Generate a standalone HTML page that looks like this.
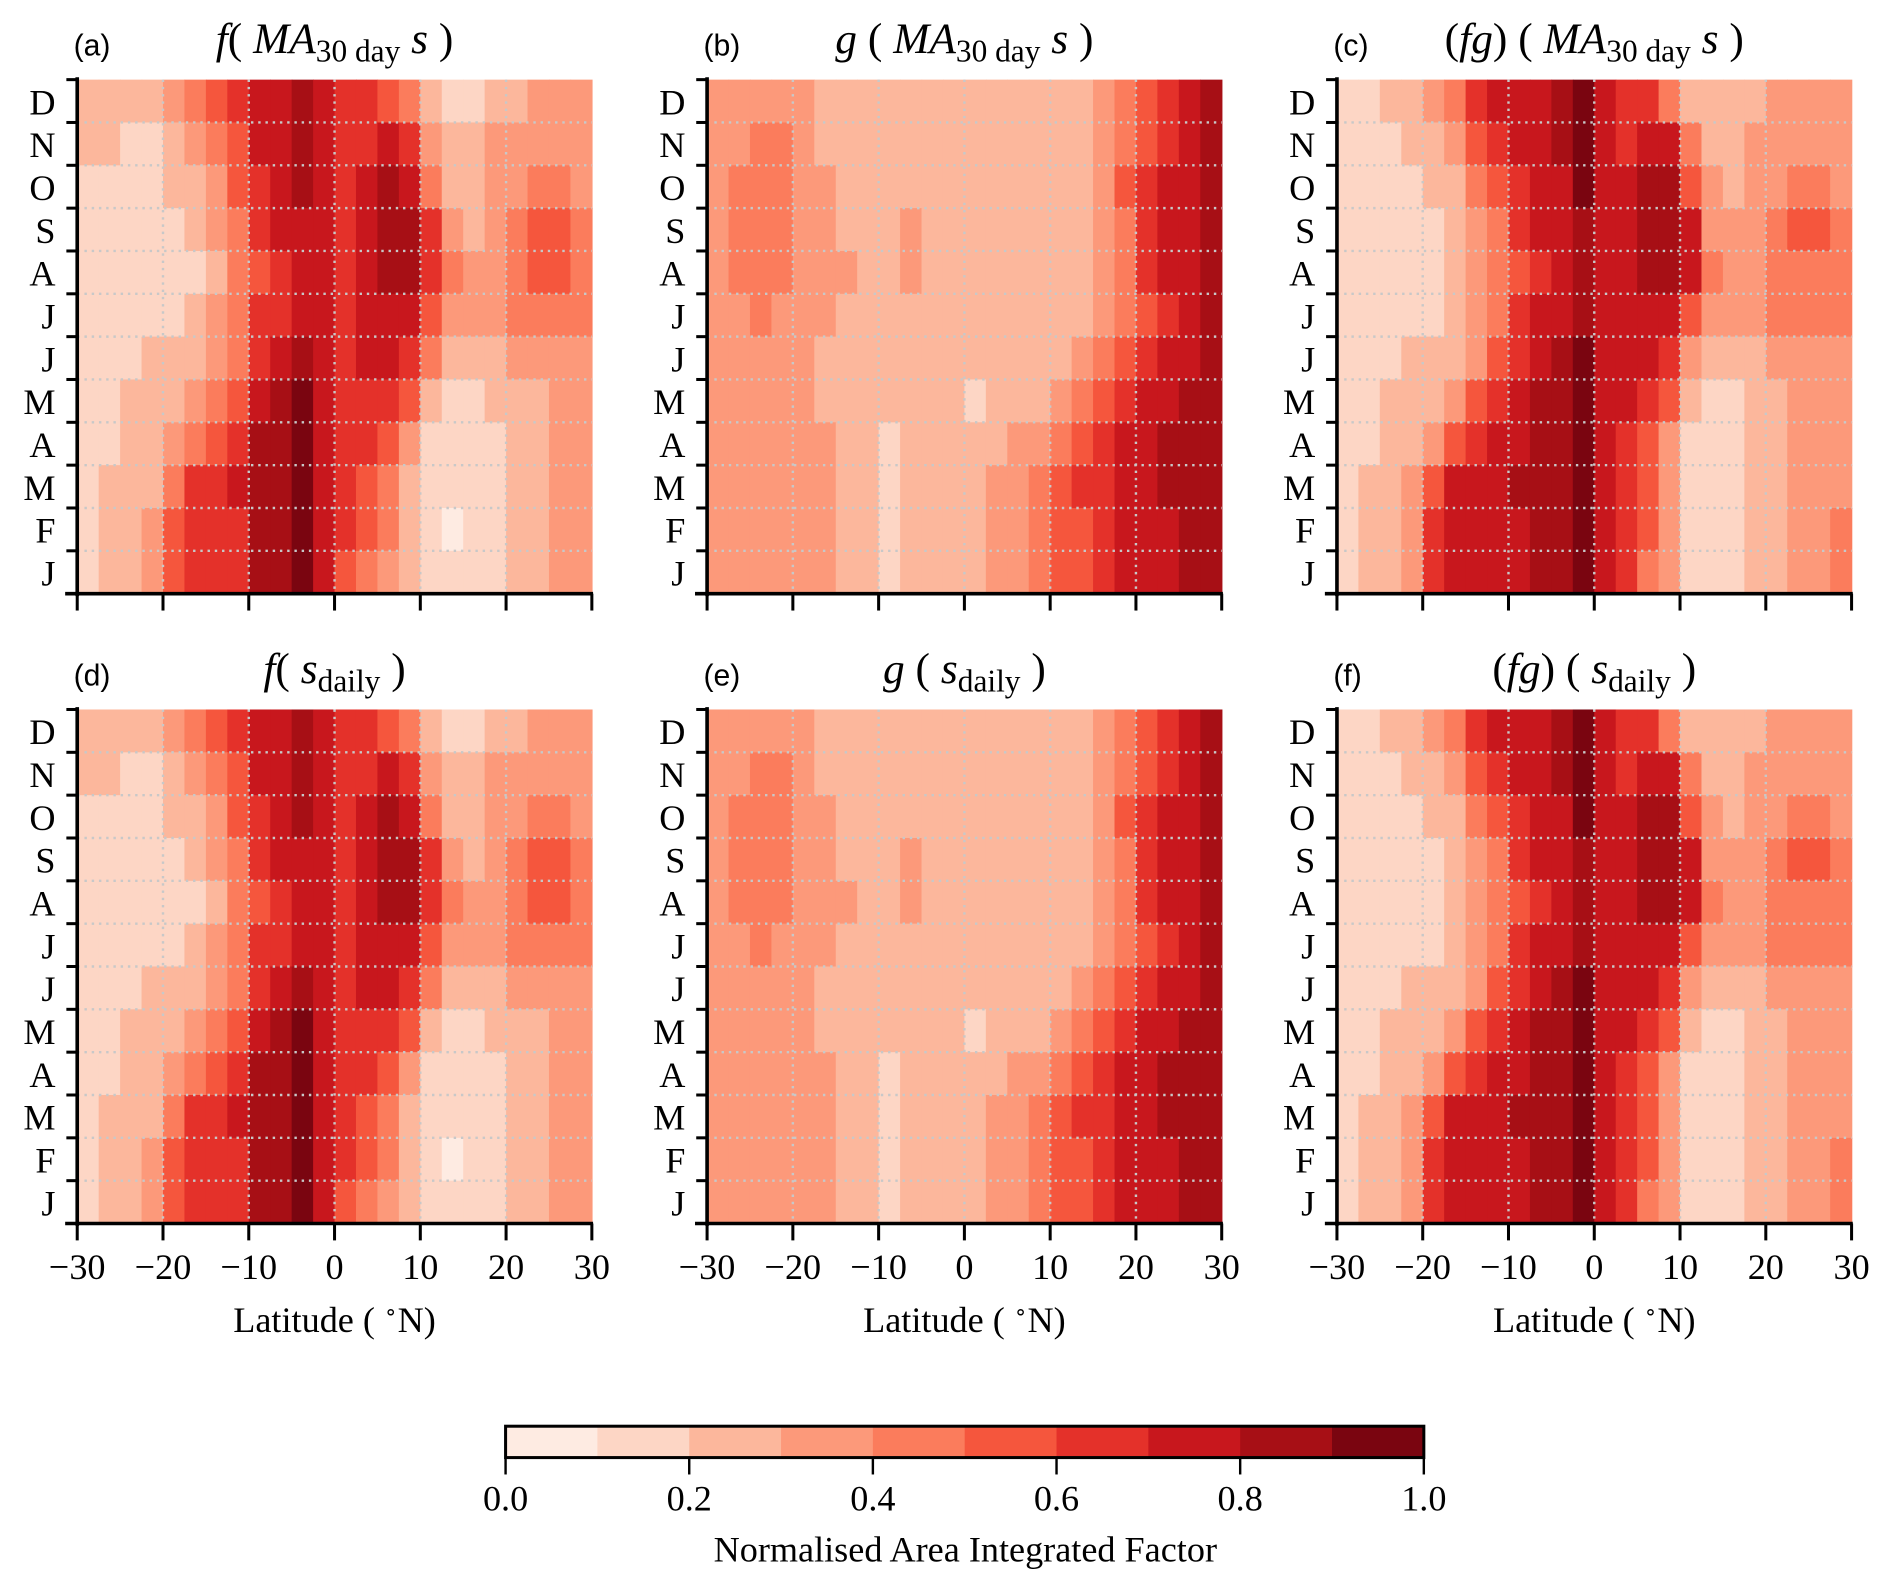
<!DOCTYPE html>
<html><head><meta charset="utf-8"><style>
html,body{margin:0;padding:0;background:#fff}
svg{display:block}
text{font-family:"Liberation Serif",serif;fill:#000}
</style></head><body>
<svg id="fig" width="1892" height="1592" viewBox="0 0 1568 1319.4" preserveAspectRatio="none" xmlns="http://www.w3.org/2000/svg"></svg>
<script>
// Latitude bin edges (°N), month labels (bottom -> top), colour levels
const latEdges = [-30,-27.5,-25,-22.5,-20,-17.5,-15,-12.5,-10,-7.5,-5,-2.5,0,2.5,5,7.5,10,12.5,15,17.5,20,22.5,25,27.5,30];
const monthLabels = ["J","F","M","A","M","J","J","A","S","O","N","D"];
const xTicks = [-30,-20,-10,0,10,20,30];
const cbarTicks = ["0.0","0.2","0.4","0.6","0.8","1.0"];
const levelColors = ["#feebe2","#fdd6c5","#fcb79c","#fc997a","#fb7c5c","#f5563d","#e4312a","#c8171d","#a70f15","#7a0510"];
// Factor level (0-9 => 0.0-0.9 bin) rows listed top (D) to bottom (J)
const fData = [
"222234567787665421122333","221123457787667632233333","111122356787678742233443",
"111112346777678863234554","111111245677678864334554","111112346677677753334444",
"111222346787677642223333","112223457897666521122233","112234568897665311112233",
"122246678897654211112233","122356668897654210112233","122356668897543211112233"];
const gData = [
"333332222222222222345678","334432222222222222345678","344433222222222222356778",
"344433222322222222346778","344433322322222222346778","334333222222222222345678",
"333332222222222223456778","333332222222122234567788","333333221222223345677888",
"333333221222233456677888","333333221222233455677788","333333221222233455677788"];
const fgData = [
"112234677789766422223333","111223567789767742233333","111122456779778853233443",
"111112346778778873334554","111112345678778874334444","111112346778777753334444",
"111222356789777632223333","112223567889776521122333","112235677889765311122333",
"122357778889765311122333","122367777889765311122334","122367777889764311122334"];
// Panels: daily versions use the same underlying fields
const panelFields = [fData, gData, fgData, fData, gData, fgData];

const svg = document.getElementById('fig');
const NS = "http://www.w3.org/2000/svg";
function mk(tag, attrs, parent){const e=document.createElementNS(NS,tag);for(const k in attrs)e.setAttribute(k,attrs[k]);(parent||svg).appendChild(e);return e;}

const colX = [64, 586, 1108], rowY = [66, 588], W = 426.5, H = 426;
const titles = [
 '<tspan font-style="italic">f</tspan>( <tspan font-style="italic">MA</tspan><tspan font-size="26" dy="7">30 day</tspan> <tspan dy="-7" font-style="italic">s</tspan> )',
 '<tspan font-style="italic">g</tspan> ( <tspan font-style="italic">MA</tspan><tspan font-size="26" dy="7">30 day</tspan> <tspan dy="-7" font-style="italic">s</tspan> )',
 '(<tspan font-style="italic">fg</tspan>) ( <tspan font-style="italic">MA</tspan><tspan font-size="26" dy="7">30 day</tspan> <tspan dy="-7" font-style="italic">s</tspan> )',
 '<tspan font-style="italic">f</tspan>( <tspan font-style="italic">s</tspan><tspan font-size="26" dy="7">daily</tspan><tspan dy="-7"> )</tspan>',
 '<tspan font-style="italic">g</tspan> ( <tspan font-style="italic">s</tspan><tspan font-size="26" dy="7">daily</tspan><tspan dy="-7"> )</tspan>',
 '(<tspan font-style="italic">fg</tspan>) ( <tspan font-style="italic">s</tspan><tspan font-size="26" dy="7">daily</tspan><tspan dy="-7"> )</tspan>'];
const letters = ["(a)","(b)","(c)","(d)","(e)","(f)"];

for (let p=0;p<6;p++){
  const x0 = colX[p%3], y0 = rowY[Math.floor(p/3)];
  const xs = v => x0 + (v+30)/60*W;
  const ys = m => y0 + H - m/12*H;
  const g = mk('g',{});
  
  
  const field = panelFields[p];
  for (let r=0;r<12;r++){
    const row = field[r]; const m = 11-r;
    for (let c=0;c<24;c++){
      const lv = +row[c];
      const rc = mk('rect',{x:xs(latEdges[c]),y:ys(m+1),width:xs(latEdges[c+1])-xs(latEdges[c])+0.6,height:ys(m)-ys(m+1)+0.6,fill:levelColors[lv]},g);
      
      
    }
  }
  for (let m=1;m<12;m++) mk('line',{x1:x0,x2:x0+W,y1:ys(m),y2:ys(m),stroke:"#c8c8c8","stroke-width":2,"stroke-dasharray":"2 4"},g);
  for (const v of [-20,-10,0,10,20]) mk('line',{x1:xs(v),x2:xs(v),y1:y0,y2:y0+H,stroke:"#c8c8c8","stroke-width":2,"stroke-dasharray":"2 4"},g);
  mk('line',{x1:x0,x2:x0,y1:y0-2,y2:y0+H+2,stroke:"#000","stroke-width":3},g);
  mk('line',{x1:x0-10,x2:x0+W+1,y1:y0+H,y2:y0+H,stroke:"#000","stroke-width":3},g);
  for (let m=0;m<=12;m++) mk('line',{x1:x0-9,x2:x0,y1:ys(m),y2:ys(m),stroke:"#000","stroke-width":2.5},g);
  for (let m=0;m<12;m++){
    const t = mk('text',{x:x0-18,y:ys(m+0.5)+11,"text-anchor":"end","font-size":30},g);
    t.textContent = monthLabels[m];
  }
  for (const v of xTicks){
    mk('line',{x1:xs(v),x2:xs(v),y1:y0+H,y2:y0+H+14,stroke:"#000","stroke-width":2.5},g);
    if (p>=3){
      const t = mk('text',{x:xs(v),y:y0+H+46,"text-anchor":"middle","font-size":30},g);
      t.textContent = (v<0?"\u2212":"")+Math.abs(v);
    }
  }
  if (p>=3){
    const t = mk('text',{x:x0+W/2,y:y0+H+90,"text-anchor":"middle","font-size":30},g);
    
    
    t.innerHTML = 'Latitude ( <tspan font-size="18" dy="-11">∘</tspan><tspan dy="11">N)</tspan>';
  }
  const tl = mk('text',{x:x0+W/2,y:y0-22,"text-anchor":"middle","font-size":36},g);
  
  
  tl.innerHTML = titles[p];
  const lt = mk('text',{x:x0-3,y:y0-20,"font-size":25,style:"font-family:'Liberation Sans',sans-serif"},g);
  
  
  lt.textContent = letters[p];
}
const cb = mk('g',{});


const cbx0=419, cbx1=1180, cby0=1182, cby1=1208;
for (let i=0;i<10;i++) mk('rect',{x:cbx0+i*(cbx1-cbx0)/10,y:cby0,width:(cbx1-cbx0)/10+0.5,height:cby1-cby0,fill:levelColors[i]},cb);
mk('rect',{x:cbx0,y:cby0,width:cbx1-cbx0,height:cby1-cby0,fill:"none",stroke:"#000","stroke-width":2.5},cb);
cbarTicks.forEach((s,i)=>{
  const x = cbx0 + i*(cbx1-cbx0)/5;
  mk('line',{x1:x,x2:x,y1:cby1,y2:cby1+14,stroke:"#000","stroke-width":2},cb);
  const t = mk('text',{x:x,y:1252,"text-anchor":"middle","font-size":30},cb);
  t.textContent = s;
});
const ct = mk('text',{x:800,y:1294,"text-anchor":"middle","font-size":30},cb);


ct.textContent = "Normalised Area Integrated Factor";
</script>
</body></html>
